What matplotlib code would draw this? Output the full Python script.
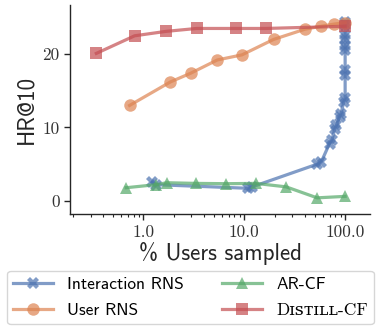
import numpy as np
import matplotlib
matplotlib.use("Agg")
import matplotlib.pyplot as plt
from matplotlib.ticker import FixedLocator, FuncFormatter, LogLocator, NullFormatter

# data
inter_x = [1.22, 1.32, 11.0, 12.0, 53, 58, 70, 74, 79, 82, 88, 91, 97, 100,
           100, 100, 100, 100, 100, 100, 100, 100]
inter_y = [2.5, 2.2, 1.7, 1.9, 5.0, 5.3, 7.8, 8.3, 9.8, 10.3, 11.4, 11.9, 13.5, 14.0,
           17.2, 17.8, 20.6, 21.1, 22.1, 22.6, 24.0, 24.4]

user_x = [0.73, 1.85, 2.95, 5.4, 9.5, 19.5, 40, 57.6, 78, 100]
user_y = [13.0, 16.2, 17.4, 19.2, 19.9, 22.0, 23.4, 23.8, 24.1, 24.3]

arcf_x = [0.675, 1.34, 1.71, 3.33, 6.67, 13.0, 26, 52.8, 100]
arcf_y = [1.78, 2.2, 2.46, 2.37, 2.33, 2.37, 1.9, 0.4, 0.6]

distill_x = [0.342, 0.82, 1.67, 3.38, 8.25, 16.3, 100]
distill_y = [20.1, 22.5, 23.1, 23.5, 23.5, 23.5, 23.8]

labels = ["Interaction RNS", "User RNS", "AR-CF", "D\u026a\ua731\u1d1b\u026a\u029f\u029f-CF"]
colors = ["#4C72B0", "#DD8452", "#55A868", "#C44E52"]
markers = ["X", "o", "^", "s"]

fig = plt.figure(figsize=(3.79, 3.33), dpi=100)
ax = fig.add_axes([0.185, 0.357, 0.791, 0.628])

series = [(inter_x, inter_y), (user_x, user_y), (arcf_x, arcf_y), (distill_x, distill_y)]
for (xs, ys), lab, c, m in zip(series, labels, colors, markers):
    ax.plot(xs, ys, marker=m, color=c, label=lab, lw=2.3, ms=9, mew=0, alpha=0.7)

ax.set_xscale("log")
ax.set_xlim(0.188, 176)
ax.set_ylim(-1.82, 26.7)

ax.xaxis.set_major_locator(FixedLocator([1, 10, 100]))
ax.xaxis.set_major_formatter(FuncFormatter(lambda v, p: "%.1f" % v))
ax.xaxis.set_minor_locator(LogLocator(base=10, subs=np.arange(2, 10)))
ax.xaxis.set_minor_formatter(NullFormatter())
ax.set_yticks([0, 10, 20])

for s in ["top", "right"]:
    ax.spines[s].set_visible(False)
for s in ["left", "bottom"]:
    ax.spines[s].set_color("#262626")
    ax.spines[s].set_linewidth(1.0)

ax.tick_params(which="major", length=4, width=1, color="#262626", labelsize=12.5,
               labelcolor="#333333")
ax.tick_params(which="minor", length=2.5, width=0.8, color="#262626")
for t in ax.get_xticklabels() + ax.get_yticklabels():
    t.set_family("cmr10")

ax.set_ylabel("HR@10", family="cmss10", fontsize=16.5, color="#262626", labelpad=4)
ax.set_xlabel("% Users sampled", family="cmss10", fontsize=16.5, color="#262626",
              labelpad=1.5)

leg = fig.legend(loc="lower center", bbox_to_anchor=(0.503, 0.0), ncol=2,
                 prop={"family": ["cmss10", "DejaVu Serif", "DejaVu Sans"], "size": 12.5},
                 handlelength=2.3, columnspacing=2.2, frameon=True, fancybox=True,
                 edgecolor="#cccccc", borderpad=0.35, labelspacing=0.62)
for t in leg.get_texts():
    if t.get_text().startswith("D"):
        t.set_family(["cmr10", "DejaVu Serif", "DejaVu Sans"])

fig.savefig("out.png", dpi=100)
